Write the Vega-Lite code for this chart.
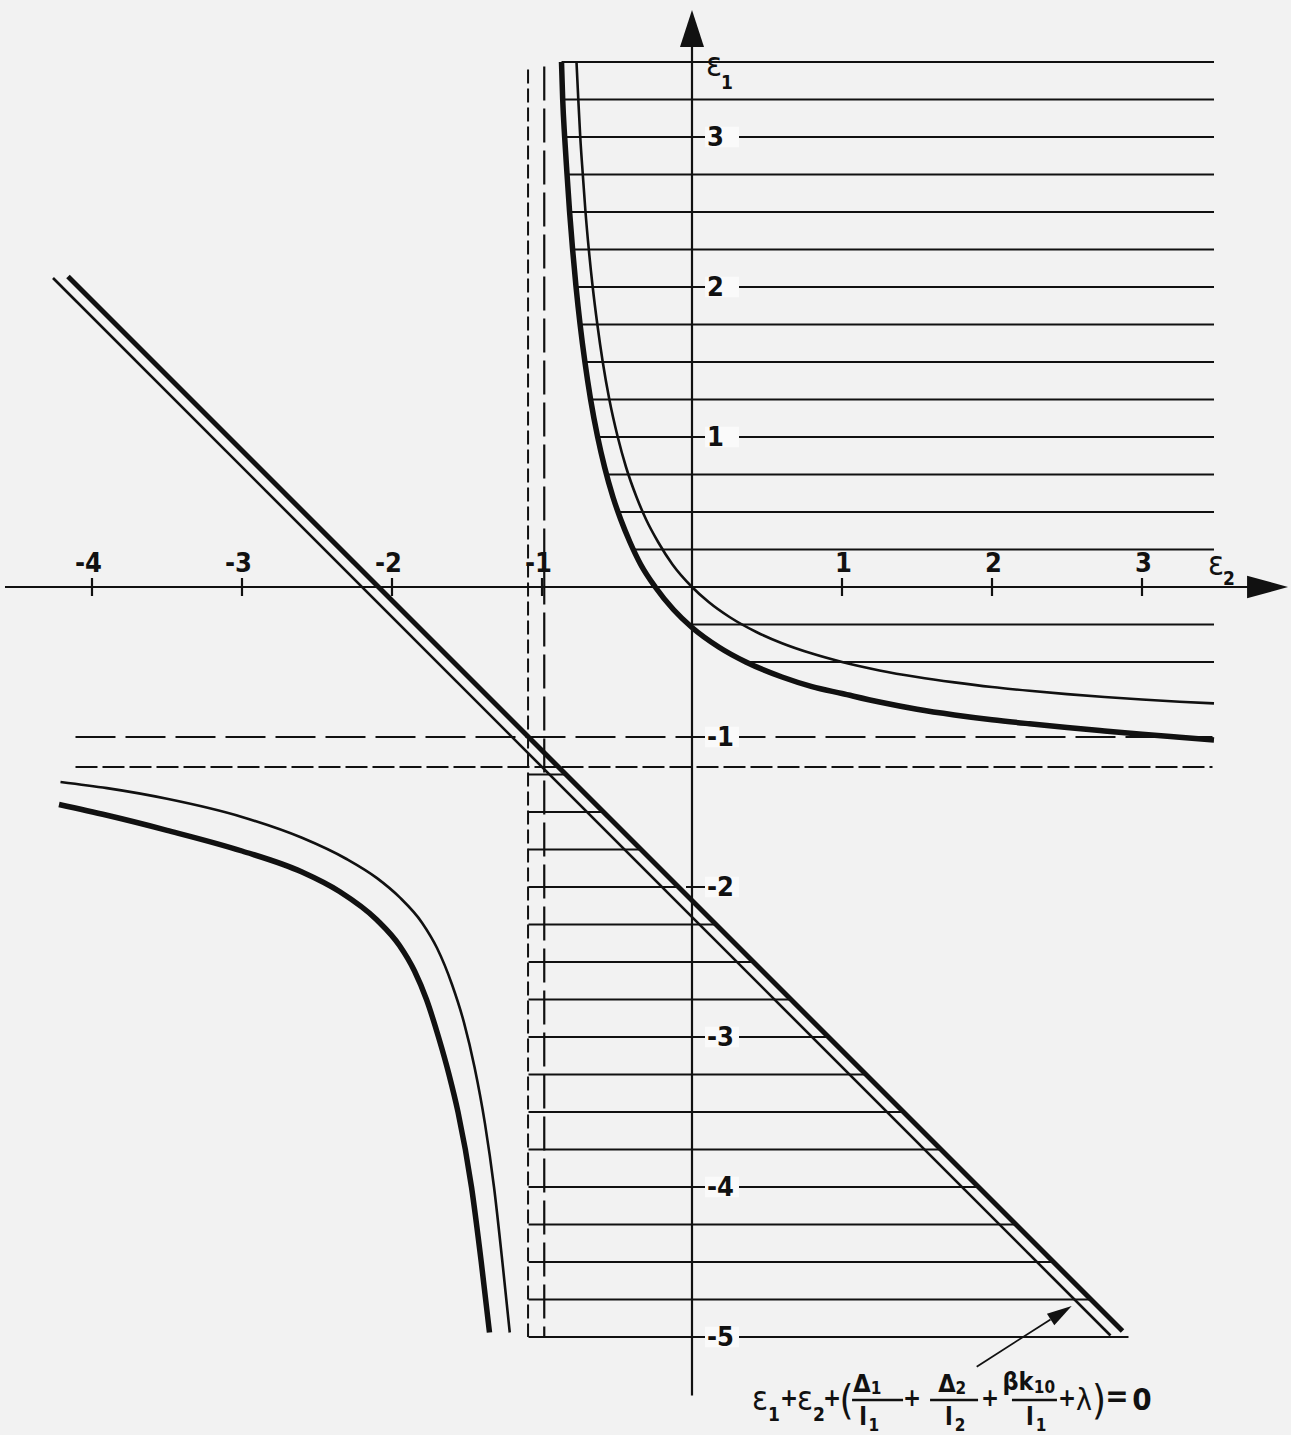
{
  "$schema": "https://vega.github.io/schema/vega-lite/v6.json",
  "width": 1291,
  "height": 1435,
  "autosize": {"type": "fit", "contains": "padding"},
  "padding": 0,
  "background": "#f2f2f2",
  "config": {"view": {"stroke": null}},
  "datasets": {
    "hseg": [
      {"kind": "hatch", "e1": 3.5, "e2": -0.87, "e2b": 3.48},
      {"kind": "hatch", "e1": 3.25, "e2": -0.862, "e2b": 3.48},
      {"kind": "hatch", "e1": 3.0, "e2": -0.849, "e2b": 3.48},
      {"kind": "hatch", "e1": 2.75, "e2": -0.833, "e2b": 3.48},
      {"kind": "hatch", "e1": 2.5, "e2": -0.816, "e2b": 3.48},
      {"kind": "hatch", "e1": 2.25, "e2": -0.796, "e2b": 3.48},
      {"kind": "hatch", "e1": 2.0, "e2": -0.773, "e2b": 3.48},
      {"kind": "hatch", "e1": 1.75, "e2": -0.746, "e2b": 3.48},
      {"kind": "hatch", "e1": 1.5, "e2": -0.714, "e2b": 3.48},
      {"kind": "hatch", "e1": 1.25, "e2": -0.676, "e2b": 3.48},
      {"kind": "hatch", "e1": 1.0, "e2": -0.629, "e2b": 3.48},
      {"kind": "hatch", "e1": 0.75, "e2": -0.57, "e2b": 3.48},
      {"kind": "hatch", "e1": 0.5, "e2": -0.494, "e2b": 3.48},
      {"kind": "hatch", "e1": 0.25, "e2": -0.391, "e2b": 3.48},
      {"kind": "hatch", "e1": -0.25, "e2": -0.02, "e2b": 3.48},
      {"kind": "hatch", "e1": -0.5, "e2": 0.36, "e2b": 3.48},
      {"kind": "hatch", "e1": -1.25, "e2": -1.09, "e2b": -0.84},
      {"kind": "hatch", "e1": -1.5, "e2": -1.09, "e2b": -0.59},
      {"kind": "hatch", "e1": -1.75, "e2": -1.09, "e2b": -0.34},
      {"kind": "hatch", "e1": -2.0, "e2": -1.09, "e2b": -0.09},
      {"kind": "hatch", "e1": -2.25, "e2": -1.09, "e2b": 0.16},
      {"kind": "hatch", "e1": -2.5, "e2": -1.09, "e2b": 0.41},
      {"kind": "hatch", "e1": -2.75, "e2": -1.09, "e2b": 0.66},
      {"kind": "hatch", "e1": -3.0, "e2": -1.09, "e2b": 0.91},
      {"kind": "hatch", "e1": -3.25, "e2": -1.09, "e2b": 1.16},
      {"kind": "hatch", "e1": -3.5, "e2": -1.09, "e2b": 1.41},
      {"kind": "hatch", "e1": -3.75, "e2": -1.09, "e2b": 1.66},
      {"kind": "hatch", "e1": -4.0, "e2": -1.09, "e2b": 1.91},
      {"kind": "hatch", "e1": -4.25, "e2": -1.09, "e2b": 2.16},
      {"kind": "hatch", "e1": -4.5, "e2": -1.09, "e2b": 2.41},
      {"kind": "hatch", "e1": -4.75, "e2": -1.09, "e2b": 2.66},
      {"kind": "hatch", "e1": -5.0, "e2": -1.09, "e2b": 2.91},
      {"kind": "dashLong", "e1": -1.0, "e2": -4.11, "e2b": 3.47},
      {"kind": "dashShort", "e1": -1.2, "e2": -4.11, "e2b": 3.47},
      {"kind": "axis", "e1": 0.0, "e2": -4.58, "e2b": 3.72},
      {"kind": "tick", "e1": 3.0, "e2": -0.04, "e2b": 0.09},
      {"kind": "tick", "e1": 2.0, "e2": -0.04, "e2b": 0.09},
      {"kind": "tick", "e1": 1.0, "e2": -0.04, "e2b": 0.09},
      {"kind": "tick", "e1": -1.0, "e2": -0.04, "e2b": 0.09},
      {"kind": "tick", "e1": -2.0, "e2": -0.04, "e2b": 0.09},
      {"kind": "tick", "e1": -3.0, "e2": -0.04, "e2b": 0.09},
      {"kind": "tick", "e1": -4.0, "e2": -0.04, "e2b": 0.09},
      {"kind": "tick", "e1": -5.0, "e2": -0.04, "e2b": 0.09},
      {"kind": "bar", "e1": -5.42, "e2": 1.067, "e2b": 1.407},
      {"kind": "bar", "e1": -5.42, "e2": 1.587, "e2b": 1.907},
      {"kind": "bar", "e1": -5.42, "e2": 2.133, "e2b": 2.433}
    ],
    "vseg": [
      {"kind": "dashShort", "e2": -1.093, "e1": 3.45, "e1b": -5.0},
      {"kind": "dashLong", "e2": -0.985, "e1": 3.47, "e1b": -5.0},
      {"kind": "axis", "e2": 0.0, "e1": 3.6, "e1b": -5.39},
      {"kind": "tick", "e2": -4.0, "e1": 0.06, "e1b": -0.06},
      {"kind": "tick", "e2": -3.0, "e1": 0.06, "e1b": -0.06},
      {"kind": "tick", "e2": -2.0, "e1": 0.06, "e1b": -0.06},
      {"kind": "tick", "e2": -1.0, "e1": 0.06, "e1b": -0.06},
      {"kind": "tick", "e2": 1.0, "e1": 0.06, "e1b": -0.06},
      {"kind": "tick", "e2": 2.0, "e1": 0.06, "e1b": -0.06},
      {"kind": "tick", "e2": 3.0, "e1": 0.06, "e1b": -0.06}
    ],
    "oseg": [
      {"kind": "thick", "e2": -4.16, "e1": 2.07, "e2b": 2.87, "e1b": -4.96},
      {"kind": "thin", "e2": -4.26, "e1": 2.06, "e2b": 2.79, "e1b": -4.99},
      {"kind": "pointer", "e2": 1.898, "e1": -5.198, "e2b": 2.39, "e1b": -4.883}
    ],
    "curve": [
      {"w": "thick", "s": "ur", "i": 1, "e2": -0.87, "e1": 3.5},
      {"w": "thick", "s": "ur", "i": 2, "e2": -0.862, "e1": 3.25},
      {"w": "thick", "s": "ur", "i": 3, "e2": -0.849, "e1": 3.0},
      {"w": "thick", "s": "ur", "i": 4, "e2": -0.833, "e1": 2.75},
      {"w": "thick", "s": "ur", "i": 5, "e2": -0.816, "e1": 2.5},
      {"w": "thick", "s": "ur", "i": 6, "e2": -0.796, "e1": 2.25},
      {"w": "thick", "s": "ur", "i": 7, "e2": -0.773, "e1": 2.0},
      {"w": "thick", "s": "ur", "i": 8, "e2": -0.746, "e1": 1.75},
      {"w": "thick", "s": "ur", "i": 9, "e2": -0.714, "e1": 1.5},
      {"w": "thick", "s": "ur", "i": 10, "e2": -0.676, "e1": 1.25},
      {"w": "thick", "s": "ur", "i": 11, "e2": -0.629, "e1": 1.0},
      {"w": "thick", "s": "ur", "i": 12, "e2": -0.583, "e1": 0.8},
      {"w": "thick", "s": "ur", "i": 13, "e2": -0.527, "e1": 0.6},
      {"w": "thick", "s": "ur", "i": 14, "e2": -0.475, "e1": 0.45},
      {"w": "thick", "s": "ur", "i": 15, "e2": -0.414, "e1": 0.3},
      {"w": "thick", "s": "ur", "i": 16, "e2": -0.342, "e1": 0.15},
      {"w": "thick", "s": "ur", "i": 17, "e2": -0.245, "e1": 0.0},
      {"w": "thick", "s": "ur", "i": 18, "e2": -0.124, "e1": -0.15},
      {"w": "thick", "s": "ur", "i": 19, "e2": 0.0, "e1": -0.27},
      {"w": "thick", "s": "ur", "i": 20, "e2": 0.178, "e1": -0.4},
      {"w": "thick", "s": "ur", "i": 21, "e2": 0.359, "e1": -0.5},
      {"w": "thick", "s": "ur", "i": 22, "e2": 0.6, "e1": -0.6},
      {"w": "thick", "s": "ur", "i": 23, "e2": 0.8, "e1": -0.664},
      {"w": "thick", "s": "ur", "i": 24, "e2": 1.0, "e1": -0.71},
      {"w": "thick", "s": "ur", "i": 25, "e2": 1.25, "e1": -0.767},
      {"w": "thick", "s": "ur", "i": 26, "e2": 1.5, "e1": -0.815},
      {"w": "thick", "s": "ur", "i": 27, "e2": 1.75, "e1": -0.853},
      {"w": "thick", "s": "ur", "i": 28, "e2": 2.0, "e1": -0.885},
      {"w": "thick", "s": "ur", "i": 29, "e2": 2.25, "e1": -0.912},
      {"w": "thick", "s": "ur", "i": 30, "e2": 2.5, "e1": -0.937},
      {"w": "thick", "s": "ur", "i": 31, "e2": 2.75, "e1": -0.96},
      {"w": "thick", "s": "ur", "i": 32, "e2": 3.0, "e1": -0.982},
      {"w": "thick", "s": "ur", "i": 33, "e2": 3.25, "e1": -1.002},
      {"w": "thick", "s": "ur", "i": 34, "e2": 3.48, "e1": -1.02},
      {"w": "thin", "s": "ur", "i": 1, "e2": -0.77, "e1": 3.5},
      {"w": "thin", "s": "ur", "i": 2, "e2": -0.758, "e1": 3.25},
      {"w": "thin", "s": "ur", "i": 3, "e2": -0.745, "e1": 3.0},
      {"w": "thin", "s": "ur", "i": 4, "e2": -0.728, "e1": 2.75},
      {"w": "thin", "s": "ur", "i": 5, "e2": -0.71, "e1": 2.5},
      {"w": "thin", "s": "ur", "i": 6, "e2": -0.688, "e1": 2.25},
      {"w": "thin", "s": "ur", "i": 7, "e2": -0.662, "e1": 2.0},
      {"w": "thin", "s": "ur", "i": 8, "e2": -0.631, "e1": 1.75},
      {"w": "thin", "s": "ur", "i": 9, "e2": -0.595, "e1": 1.5},
      {"w": "thin", "s": "ur", "i": 10, "e2": -0.551, "e1": 1.25},
      {"w": "thin", "s": "ur", "i": 11, "e2": -0.495, "e1": 1.0},
      {"w": "thin", "s": "ur", "i": 12, "e2": -0.44, "e1": 0.8},
      {"w": "thin", "s": "ur", "i": 13, "e2": -0.37, "e1": 0.6},
      {"w": "thin", "s": "ur", "i": 14, "e2": -0.306, "e1": 0.45},
      {"w": "thin", "s": "ur", "i": 15, "e2": -0.226, "e1": 0.3},
      {"w": "thin", "s": "ur", "i": 16, "e2": -0.13, "e1": 0.15},
      {"w": "thin", "s": "ur", "i": 17, "e2": 0.0, "e1": 0.0},
      {"w": "thin", "s": "ur", "i": 18, "e2": 0.111, "e1": -0.1},
      {"w": "thin", "s": "ur", "i": 19, "e2": 0.25, "e1": -0.2},
      {"w": "thin", "s": "ur", "i": 20, "e2": 0.429, "e1": -0.3},
      {"w": "thin", "s": "ur", "i": 21, "e2": 0.6, "e1": -0.375},
      {"w": "thin", "s": "ur", "i": 22, "e2": 0.8, "e1": -0.444},
      {"w": "thin", "s": "ur", "i": 23, "e2": 1.0, "e1": -0.5},
      {"w": "thin", "s": "ur", "i": 24, "e2": 1.25, "e1": -0.556},
      {"w": "thin", "s": "ur", "i": 25, "e2": 1.5, "e1": -0.6},
      {"w": "thin", "s": "ur", "i": 26, "e2": 1.75, "e1": -0.636},
      {"w": "thin", "s": "ur", "i": 27, "e2": 2.0, "e1": -0.667},
      {"w": "thin", "s": "ur", "i": 28, "e2": 2.25, "e1": -0.692},
      {"w": "thin", "s": "ur", "i": 29, "e2": 2.5, "e1": -0.714},
      {"w": "thin", "s": "ur", "i": 30, "e2": 2.75, "e1": -0.733},
      {"w": "thin", "s": "ur", "i": 31, "e2": 3.0, "e1": -0.75},
      {"w": "thin", "s": "ur", "i": 32, "e2": 3.25, "e1": -0.765},
      {"w": "thin", "s": "ur", "i": 33, "e2": 3.48, "e1": -0.776},
      {"w": "thin", "s": "ll", "i": 1, "e2": -4.21, "e1": -1.3},
      {"w": "thin", "s": "ll", "i": 2, "e2": -3.9, "e1": -1.341},
      {"w": "thin", "s": "ll", "i": 3, "e2": -3.5, "e1": -1.412},
      {"w": "thin", "s": "ll", "i": 4, "e2": -3.0, "e1": -1.533},
      {"w": "thin", "s": "ll", "i": 5, "e2": -2.6, "e1": -1.672},
      {"w": "thin", "s": "ll", "i": 6, "e2": -2.3, "e1": -1.815},
      {"w": "thin", "s": "ll", "i": 7, "e2": -2.1, "e1": -1.941},
      {"w": "thin", "s": "ll", "i": 8, "e2": -1.95, "e1": -2.068},
      {"w": "thin", "s": "ll", "i": 9, "e2": -1.8, "e1": -2.238},
      {"w": "thin", "s": "ll", "i": 10, "e2": -1.7, "e1": -2.407},
      {"w": "thin", "s": "ll", "i": 11, "e2": -1.6, "e1": -2.65},
      {"w": "thin", "s": "ll", "i": 12, "e2": -1.52, "e1": -2.904},
      {"w": "thin", "s": "ll", "i": 13, "e2": -1.45, "e1": -3.2},
      {"w": "thin", "s": "ll", "i": 14, "e2": -1.38, "e1": -3.579},
      {"w": "thin", "s": "ll", "i": 15, "e2": -1.32, "e1": -4.0},
      {"w": "thin", "s": "ll", "i": 16, "e2": -1.26, "e1": -4.538},
      {"w": "thin", "s": "ll", "i": 17, "e2": -1.215, "e1": -4.97},
      {"w": "thick", "s": "ll", "i": 1, "e2": -4.22, "e1": -1.45},
      {"w": "thick", "s": "ll", "i": 2, "e2": -3.9, "e1": -1.522},
      {"w": "thick", "s": "ll", "i": 3, "e2": -3.5, "e1": -1.622},
      {"w": "thick", "s": "ll", "i": 4, "e2": -3.0, "e1": -1.76},
      {"w": "thick", "s": "ll", "i": 5, "e2": -2.6, "e1": -1.9},
      {"w": "thick", "s": "ll", "i": 6, "e2": -2.35, "e1": -2.03},
      {"w": "thick", "s": "ll", "i": 7, "e2": -2.1, "e1": -2.22},
      {"w": "thick", "s": "ll", "i": 8, "e2": -1.95, "e1": -2.39},
      {"w": "thick", "s": "ll", "i": 9, "e2": -1.85, "e1": -2.56},
      {"w": "thick", "s": "ll", "i": 10, "e2": -1.77, "e1": -2.75},
      {"w": "thick", "s": "ll", "i": 11, "e2": -1.69, "e1": -3.0},
      {"w": "thick", "s": "ll", "i": 12, "e2": -1.62, "e1": -3.25},
      {"w": "thick", "s": "ll", "i": 13, "e2": -1.56, "e1": -3.5},
      {"w": "thick", "s": "ll", "i": 14, "e2": -1.47, "e1": -4.0},
      {"w": "thick", "s": "ll", "i": 15, "e2": -1.405, "e1": -4.5},
      {"w": "thick", "s": "ll", "i": 16, "e2": -1.35, "e1": -4.97}
    ],
    "heads": [
      {"k": "x", "e2": 3.837, "e1": 0.0},
      {"k": "y", "e2": 0.0, "e1": 3.723},
      {"k": "p", "e2": 2.461, "e1": -4.838}
    ],
    "xlab": [
      {"t": "-4", "e2": -4.0, "e1": 0.1},
      {"t": "-3", "e2": -3.0, "e1": 0.1},
      {"t": "-2", "e2": -2.0, "e1": 0.1},
      {"t": "-1", "e2": -1.0, "e1": 0.1},
      {"t": "1", "e2": 1.0, "e1": 0.1},
      {"t": "2", "e2": 2.0, "e1": 0.1},
      {"t": "3", "e2": 3.0, "e1": 0.1}
    ],
    "ylab": [
      {"t": "3", "e1": 3.0, "e2": 0.1, "gap": 0.2},
      {"t": "2", "e1": 2.0, "e2": 0.1, "gap": 0.2},
      {"t": "1", "e1": 1.0, "e2": 0.1, "gap": 0.2},
      {"t": "-1", "e1": -1.0, "e2": 0.1, "gap": 0.2},
      {"t": "-2", "e1": -2.0, "e2": 0.1, "gap": 0.2},
      {"t": "-3", "e1": -3.0, "e2": 0.1, "gap": 0.2},
      {"t": "-4", "e1": -4.0, "e2": 0.1, "gap": 0.2},
      {"t": "-5", "e1": -5.0, "e2": 0.1, "gap": 0.2}
    ],
    "eq": [
      {"g": "eps", "t": "ε", "e2": 0.453, "e1": -5.487},
      {"g": "sub", "t": "1", "e2": 0.547, "e1": -5.56},
      {"g": "plus", "t": "+", "e2": 0.647, "e1": -5.46},
      {"g": "eps", "t": "ε", "e2": 0.753, "e1": -5.487},
      {"g": "sub", "t": "2", "e2": 0.847, "e1": -5.56},
      {"g": "plus", "t": "+", "e2": 0.933, "e1": -5.46},
      {"g": "paren", "t": "(", "e2": 1.03, "e1": -5.513},
      {"g": "frac", "t": "Δ", "e2": 1.133, "e1": -5.367},
      {"g": "fsub", "t": "1", "e2": 1.227, "e1": -5.38},
      {"g": "frac", "t": "l", "e2": 1.14, "e1": -5.587},
      {"g": "fsub", "t": "1", "e2": 1.213, "e1": -5.627},
      {"g": "plus", "t": "+", "e2": 1.467, "e1": -5.46},
      {"g": "frac", "t": "Δ", "e2": 1.7, "e1": -5.367},
      {"g": "fsub", "t": "2", "e2": 1.793, "e1": -5.38},
      {"g": "frac", "t": "l", "e2": 1.713, "e1": -5.587},
      {"g": "fsub", "t": "2", "e2": 1.787, "e1": -5.627},
      {"g": "plus", "t": "+", "e2": 1.987, "e1": -5.46},
      {"g": "frac", "t": "βk", "e2": 2.173, "e1": -5.353},
      {"g": "fsub", "t": "10", "e2": 2.35, "e1": -5.373},
      {"g": "frac", "t": "l", "e2": 2.253, "e1": -5.587},
      {"g": "fsub", "t": "1", "e2": 2.327, "e1": -5.627},
      {"g": "plus", "t": "+", "e2": 2.5, "e1": -5.46},
      {"g": "lam", "t": "λ", "e2": 2.613, "e1": -5.487},
      {"g": "paren", "t": ")", "e2": 2.713, "e1": -5.513},
      {"g": "big", "t": "=", "e2": 2.833, "e1": -5.46},
      {"g": "big", "t": "0", "e2": 3.0, "e1": -5.487},
      {"g": "axeps", "t": "ε", "e2": 0.147, "e1": 3.407},
      {"g": "axsub", "t": "1", "e2": 0.233, "e1": 3.32},
      {"g": "axeps", "t": "ε", "e2": 3.493, "e1": 0.08},
      {"g": "axsub", "t": "2", "e2": 3.58, "e1": 0.013}
    ]
  },
  "encoding": {
    "x": {"field": "e2", "type": "quantitative", "scale": {"domain": [-4.6133, 3.9933], "nice": false, "zero": false}, "axis": null},
    "y": {"field": "e1", "type": "quantitative", "scale": {"domain": [-5.6533, 3.9133], "nice": false, "zero": false}, "axis": null}
  },
  "layer": [
    {
      "data": {"name": "hseg"},
      "transform": [{"filter": "datum.kind === 'hatch' || datum.kind === 'tick' || datum.kind === 'axis'"}],
      "mark": {"type": "rule", "color": "#111111", "strokeWidth": 2},
      "encoding": {"x2": {"field": "e2b"}}
    },
    {
      "data": {"name": "hseg"},
      "transform": [{"filter": "datum.kind === 'dashLong'"}],
      "mark": {"type": "rule", "color": "#111111", "strokeWidth": 2, "strokeDash": [40, 10]},
      "encoding": {"x2": {"field": "e2b"}}
    },
    {
      "data": {"name": "hseg"},
      "transform": [{"filter": "datum.kind === 'dashShort'"}],
      "mark": {"type": "rule", "color": "#111111", "strokeWidth": 2, "strokeDash": [22, 5]},
      "encoding": {"x2": {"field": "e2b"}}
    },
    {
      "data": {"name": "vseg"},
      "transform": [{"filter": "datum.kind === 'axis' || datum.kind === 'tick'"}],
      "mark": {"type": "rule", "color": "#111111", "strokeWidth": 2.2},
      "encoding": {"y2": {"field": "e1b"}}
    },
    {
      "data": {"name": "vseg"},
      "transform": [{"filter": "datum.kind === 'dashShort'"}],
      "mark": {"type": "rule", "color": "#111111", "strokeWidth": 2, "strokeDash": [14, 5]},
      "encoding": {"y2": {"field": "e1b"}}
    },
    {
      "data": {"name": "vseg"},
      "transform": [{"filter": "datum.kind === 'dashLong'"}],
      "mark": {"type": "rule", "color": "#111111", "strokeWidth": 2.2, "strokeDash": [34, 8]},
      "encoding": {"y2": {"field": "e1b"}}
    },
    {
      "data": {"name": "ylab"},
      "mark": {"type": "point", "shape": "M-1,-0.6H1V0.6H-1Z", "size": 1156, "filled": true, "color": "#fafafa", "opacity": 1, "strokeWidth": 0},
      "encoding": {"x": {"field": "gap", "type": "quantitative", "scale": {"domain": [-4.6133, 3.9933], "nice": false, "zero": false}, "axis": null}}
    },
    {
      "data": {"name": "oseg"},
      "transform": [{"filter": "datum.kind === 'thin'"}],
      "mark": {"type": "rule", "color": "#111111", "strokeWidth": 2.6},
      "encoding": {"x2": {"field": "e2b"}, "y2": {"field": "e1b"}}
    },
    {
      "data": {"name": "oseg"},
      "transform": [{"filter": "datum.kind === 'thick'"}],
      "mark": {"type": "rule", "color": "#111111", "strokeWidth": 5},
      "encoding": {"x2": {"field": "e2b"}, "y2": {"field": "e1b"}}
    },
    {
      "data": {"name": "oseg"},
      "transform": [{"filter": "datum.kind === 'pointer'"}],
      "mark": {"type": "rule", "color": "#111111", "strokeWidth": 1.8},
      "encoding": {"x2": {"field": "e2b"}, "y2": {"field": "e1b"}}
    },
    {
      "data": {"name": "curve"},
      "transform": [{"filter": "datum.w === 'thin'"}],
      "mark": {"type": "line", "color": "#111111", "strokeWidth": 2.6, "interpolate": "monotone"},
      "encoding": {"detail": {"field": "s"}, "order": {"field": "i", "type": "quantitative"}}
    },
    {
      "data": {"name": "curve"},
      "transform": [{"filter": "datum.w === 'thick'"}],
      "mark": {"type": "line", "color": "#111111", "strokeWidth": 5.5, "interpolate": "monotone"},
      "encoding": {"detail": {"field": "s"}, "order": {"field": "i", "type": "quantitative"}}
    },
    {
      "data": {"name": "hseg"},
      "transform": [{"filter": "datum.kind === 'bar'"}],
      "mark": {"type": "rule", "color": "#111111", "strokeWidth": 2.6},
      "encoding": {"x2": {"field": "e2b"}}
    },
    {
      "data": {"name": "heads"},
      "transform": [{"filter": "datum.k === 'x'"}],
      "mark": {"type": "point", "shape": "M1,0L-1,-0.55L-1,0.55Z", "size": 1681, "filled": true, "color": "#111111", "opacity": 1, "strokeWidth": 0}
    },
    {
      "data": {"name": "heads"},
      "transform": [{"filter": "datum.k === 'y'"}],
      "mark": {"type": "point", "shape": "M0,-1L0.65,1L-0.65,1Z", "size": 1369, "filled": true, "color": "#111111", "opacity": 1, "strokeWidth": 0}
    },
    {
      "data": {"name": "heads"},
      "transform": [{"filter": "datum.k === 'p'"}],
      "mark": {"type": "point", "shape": "M0,-1L0.55,1L-0.55,1Z", "size": 625, "angle": 57.4, "filled": true, "color": "#111111", "opacity": 1, "strokeWidth": 0}
    },
    {
      "data": {"name": "xlab"},
      "mark": {"type": "text", "font": "DejaVu Sans Condensed", "fontSize": 27, "fontWeight": "bold", "color": "#111111", "align": "right", "baseline": "alphabetic", "dx": 10},
      "encoding": {"text": {"field": "t"}}
    },
    {
      "data": {"name": "ylab"},
      "mark": {"type": "text", "font": "DejaVu Sans Condensed", "fontSize": 27, "fontWeight": "bold", "color": "#111111", "align": "left", "baseline": "middle", "dy": 1},
      "encoding": {"text": {"field": "t"}}
    },
    {
      "data": {"name": "eq"},
      "transform": [{"filter": "datum.g === 'eps'"}],
      "mark": {"type": "text", "font": "DejaVu Sans Condensed", "fontSize": 33, "color": "#111111", "align": "center", "baseline": "alphabetic"},
      "encoding": {"text": {"field": "t"}}
    },
    {
      "data": {"name": "eq"},
      "transform": [{"filter": "datum.g === 'axeps'"}],
      "mark": {"type": "text", "font": "DejaVu Sans Condensed", "fontSize": 33, "color": "#111111", "align": "center", "baseline": "alphabetic"},
      "encoding": {"text": {"field": "t"}}
    },
    {
      "data": {"name": "eq"},
      "transform": [{"filter": "datum.g === 'sub' || datum.g === 'axsub'"}],
      "mark": {"type": "text", "font": "DejaVu Sans Condensed", "fontSize": 19, "fontWeight": "bold", "color": "#111111", "align": "center", "baseline": "alphabetic"},
      "encoding": {"text": {"field": "t"}}
    },
    {
      "data": {"name": "eq"},
      "transform": [{"filter": "datum.g === 'fsub'"}],
      "mark": {"type": "text", "font": "DejaVu Sans Condensed", "fontSize": 17, "fontWeight": "bold", "color": "#111111", "align": "center", "baseline": "alphabetic"},
      "encoding": {"text": {"field": "t"}}
    },
    {
      "data": {"name": "eq"},
      "transform": [{"filter": "datum.g === 'plus'"}],
      "mark": {"type": "text", "font": "DejaVu Sans Condensed", "fontSize": 24, "fontWeight": "bold", "color": "#111111", "align": "center", "baseline": "alphabetic"},
      "encoding": {"text": {"field": "t"}}
    },
    {
      "data": {"name": "eq"},
      "transform": [{"filter": "datum.g === 'paren'"}],
      "mark": {"type": "text", "font": "DejaVu Sans Condensed", "fontSize": 40, "color": "#111111", "align": "center", "baseline": "alphabetic"},
      "encoding": {"text": {"field": "t"}}
    },
    {
      "data": {"name": "eq"},
      "transform": [{"filter": "datum.g === 'frac'"}],
      "mark": {"type": "text", "font": "DejaVu Sans Condensed", "fontSize": 25, "fontWeight": "bold", "color": "#111111", "align": "center", "baseline": "alphabetic"},
      "encoding": {"text": {"field": "t"}}
    },
    {
      "data": {"name": "eq"},
      "transform": [{"filter": "datum.g === 'lam'"}],
      "mark": {"type": "text", "font": "DejaVu Sans Condensed", "fontSize": 30, "color": "#111111", "align": "center", "baseline": "alphabetic"},
      "encoding": {"text": {"field": "t"}}
    },
    {
      "data": {"name": "eq"},
      "transform": [{"filter": "datum.g === 'big'"}],
      "mark": {"type": "text", "font": "DejaVu Sans Condensed", "fontSize": 31, "fontWeight": "bold", "color": "#111111", "align": "center", "baseline": "alphabetic"},
      "encoding": {"text": {"field": "t"}}
    }
  ]
}
